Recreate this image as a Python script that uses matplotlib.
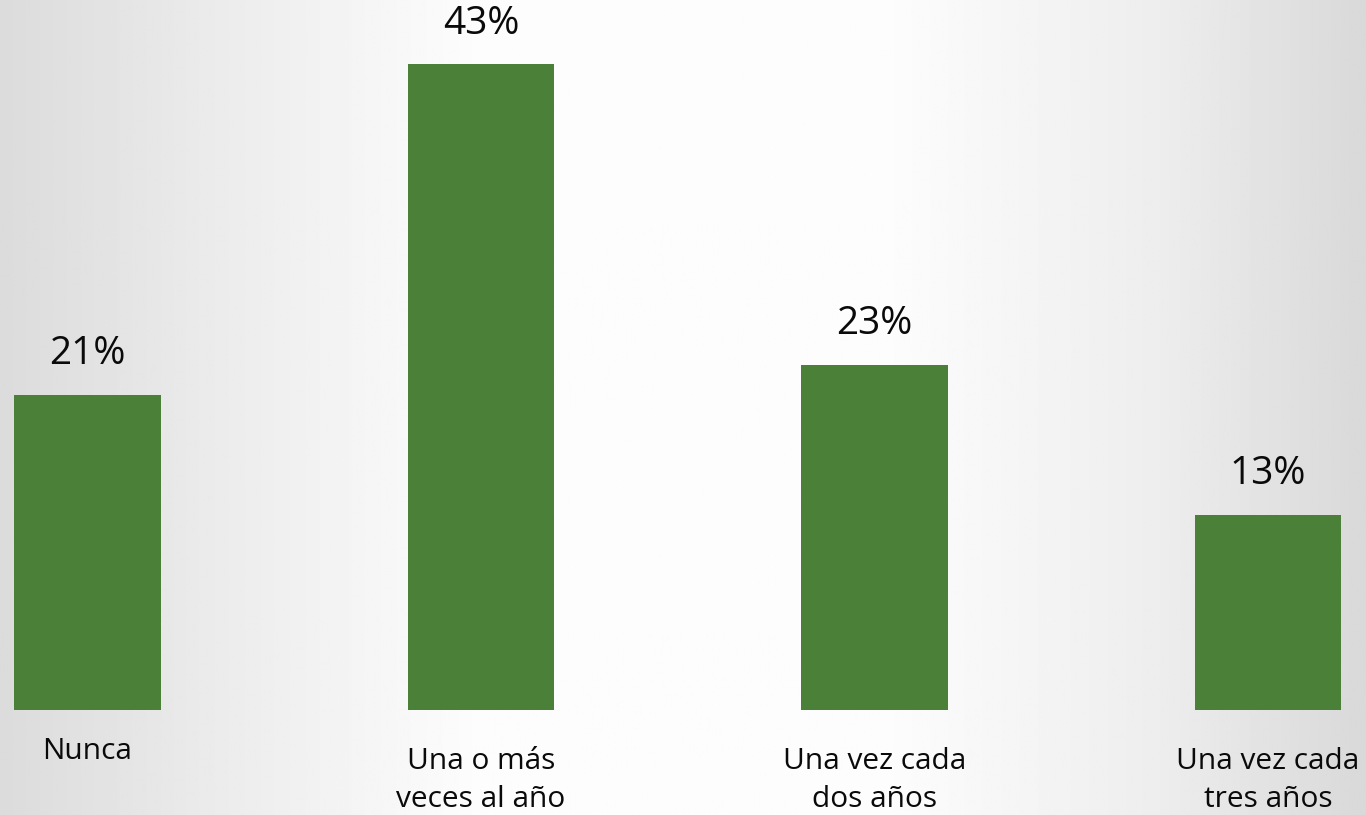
import numpy as np
import matplotlib
matplotlib.use("Agg")
import matplotlib.pyplot as plt

plt.rcParams['font.family'] = ['Open Sans', 'DejaVu Sans']

categorias = ["Nunca", "Una o más\nveces al año", "Una vez cada\ndos años", "Una vez cada\ntres años"]
porcentajes = [21, 43, 23, 13]
etiquetas = ["21%", "43%", "23%", "13%"]

verde = "#4a8038"

fig = plt.figure(figsize=(13.66, 8.15), dpi=100)

# fondo con degradado horizontal (gris en los bordes, blanco al centro)
fondo = fig.add_axes([0, 0, 1, 1], zorder=0)
xs = np.linspace(0, 1, 600)
tono = np.interp(xs, [0, 0.15, 0.35, 0.65, 0.85, 1], [0.86, 0.92, 0.99, 0.99, 0.93, 0.85])
fondo.imshow(np.tile(tono, (2, 1)), cmap="gray", vmin=0, vmax=1, aspect="auto",
             extent=[0, 1, 0, 1])
fondo.axis("off")

ax = fig.add_axes([0, 0.1288, 1, 0.8712], zorder=1)
ax.patch.set_alpha(0)
x = np.arange(len(categorias))
ax.bar(x, porcentajes, width=0.373, color=verde)
ax.set_xlim(-0.2222, 3.249)
ax.set_ylim(0, 47.27)
ax.axis("off")

for xi, v, t in zip(x, porcentajes, etiquetas):
    ax.annotate(t, (xi, v), xytext=(0, 29), textcoords="offset points",
                ha="center", va="center", fontsize=28, color="#0a0a0a")

for xi, c in zip(x, categorias):
    dy = -30 if "\n" not in c else -51
    ax.annotate(c, (xi, 0), xytext=(0, dy), textcoords="offset points",
                ha="center", va="center", fontsize=21.5, color="#0a0a0a",
                linespacing=1.4, annotation_clip=False)

fig.savefig("out.png", dpi=100)
